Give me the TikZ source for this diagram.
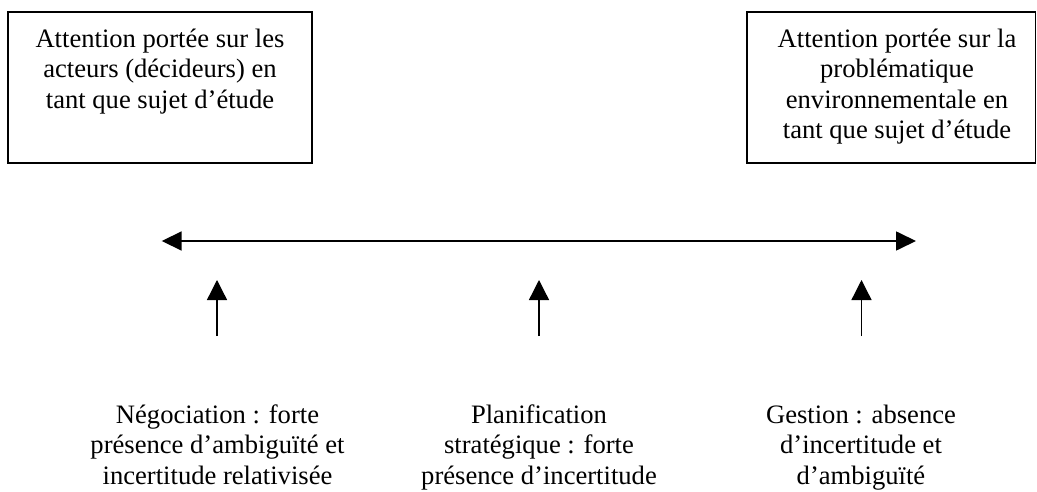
\documentclass[tikz,border=0pt]{standalone}
\usepackage{fontspec}
\setmainfont{Liberation Serif}
\usetikzlibrary{arrows.meta}
\begin{document}
\begin{tikzpicture}[x=1pt,y=-1pt,
  txt/.style={align=center,inner sep=0pt,anchor=north,font=\fontsize{26.6}{30.5}\selectfont},
  framebox/.style={draw,line width=1.5pt,inner sep=0pt},
  mainline/.style={line width=1.7pt,{Triangle[length=20pt,width=19pt]}-{Triangle[length=20pt,width=19pt]}},
  pointer/.style={line width=1.3pt,-{Triangle[length=20pt,width=20pt]}}]
\useasboundingbox (0,0) rectangle (1037,492);
% boxes
\node[framebox,minimum width=304pt,minimum height=151pt] (boxL) at (160,87.5) {};
\node[framebox,minimum width=288.5pt,minimum height=151pt] (boxR) at (891.25,87.5) {};
\node[txt] (tL) at (160,28.7) {Attention portée sur les\\acteurs (décideurs) en\\tant que sujet d’étude};
\node[txt] (tR) at (897,28.7) {Attention portée sur la\\problématique\\environnementale en\\tant que sujet d’étude};
% axis
\coordinate (axL) at (161.7,241);
\coordinate (axR) at (916,241);
\draw[mainline] (axL) -- (axR);
% pointers
\coordinate (p1s) at (217,336);
\coordinate (p1e) at (217,280);
\coordinate (p2s) at (539,336);
\coordinate (p2e) at (539,280);
\coordinate (p3s) at (861.5,336);
\coordinate (p3e) at (861.5,280);
\draw[pointer] (p1s) -- (p1e);
\draw[pointer] (p2s) -- (p2e);
\draw[pointer] (p3s) -- (p3e);
% bottom labels
\node[txt] (b1) at (217.5,404.5) {Négociation : forte\\présence d’ambiguïté et\\incertitude relativisée};
\node[txt] (b2) at (539,404.5) {Planification\\stratégique : forte\\présence d’incertitude};
\node[txt] (b3) at (861,404.5) {Gestion : absence\\d’incertitude et\\d’ambiguïté};
\end{tikzpicture}
\end{document}
